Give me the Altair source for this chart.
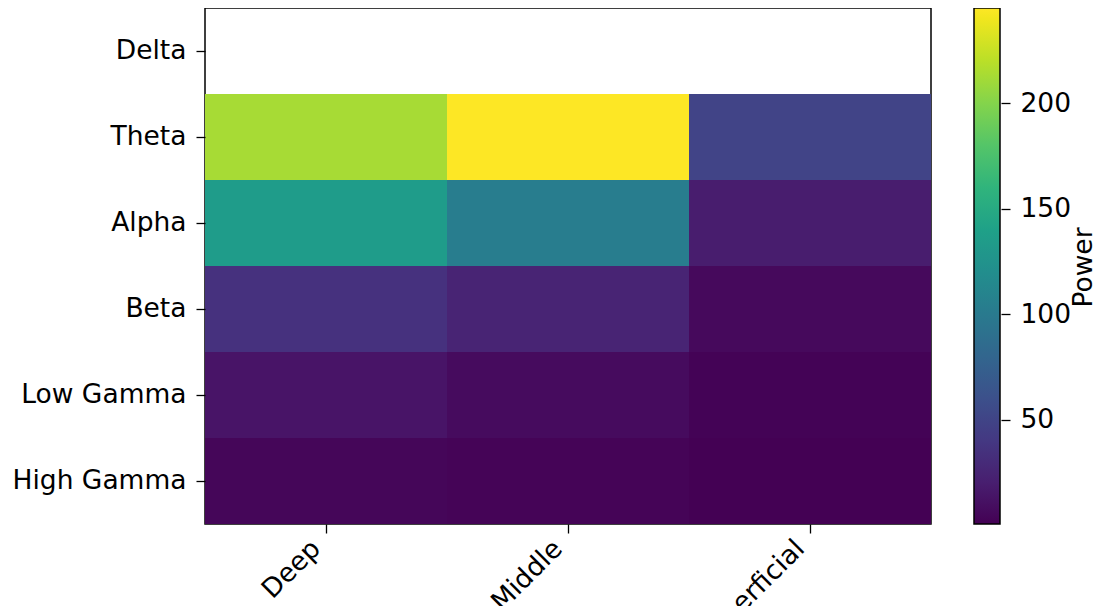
import altair as alt
import pandas as pd

bands = ["Delta", "Theta", "Alpha", "Beta", "Low Gamma", "High Gamma"]
layers = ["Deep", "Middle", "Superficial"]
deep = [None, 213, 135, 35, 13, 4.0]
middle = [None, 245, 103, 24, 6.7, 2.3]
superficial = [None, 49.5, 19, 5.5, 1.8, 0.6]
cbar_ticks = [50, 100, 150, 200]

rows = []
for layer, vals in zip(layers, [deep, middle, superficial]):
    for band, v in zip(bands, vals):
        if v is not None:
            rows.append({"Layer": layer, "Band": band, "Power": v})
df = pd.DataFrame(rows)
vmin, vmax = float(df["Power"].min()), float(df["Power"].max())

FONT = "DejaVu Sans"
FS = 26.5

heat = alt.Chart(df).mark_rect().encode(
    x=alt.X("Layer:N", sort=layers,
            scale=alt.Scale(domain=layers, paddingInner=0, paddingOuter=0),
            axis=alt.Axis(title=None, labelAngle=-45, labelAlign="right",
                          labelBaseline="top", labelFontSize=FS, tickSize=9,
                          labelPadding=2, labelOffset=-19, domain=False)),
    y=alt.Y("Band:N", sort=bands,
            scale=alt.Scale(domain=bands, paddingInner=0, paddingOuter=0),
            axis=alt.Axis(title=None, labelFontSize=FS, tickSize=9,
                          labelPadding=10, domain=False)),
    color=alt.Color("Power:Q",
                    scale=alt.Scale(scheme="viridis", domain=[vmin, vmax],
                                    nice=False, zero=False),
                    legend=alt.Legend(title=None, orient="none", legendX=769,
                                      legendY=0, direction="vertical",
                                      gradientLength=516, gradientThickness=26,
                                      gradientStrokeColor="black",
                                      gradientStrokeWidth=1.5,
                                      labelOpacity=0, values=cbar_ticks)),
)

cbar_axis = alt.Chart(df).mark_point(opacity=0).encode(
    y=alt.Y("Power:Q",
            scale=alt.Scale(domain=[vmin, vmax], nice=False, zero=False),
            axis=alt.Axis(orient="right", offset=70, values=cbar_ticks,
                          title="Power", titleAngle=270, titleFontSize=FS,
                          titleFontWeight="normal", titleX=82, titleY=259,
                          titleAlign="center", titleBaseline="middle",
                          labelFontSize=FS, tickSize=9, labelPadding=10,
                          domain=False, grid=False)),
)

chart = alt.layer(heat, cbar_axis).resolve_scale(y="independent").properties(
    width=726, height=516,
    padding={"left": 197, "top": 0, "right": 165, "bottom": 82},
    autosize=alt.AutoSizeParams(type="none"),
).configure_view(stroke="black", strokeWidth=1.5).configure_axis(
    labelFont=FONT, titleFont=FONT, labelColor="black", titleColor="black",
    tickColor="black", tickWidth=1.3, grid=False,
).configure_legend(labelFont=FONT)

chart.save("out.html", embed_options={"renderer": "svg", "actions": False})
